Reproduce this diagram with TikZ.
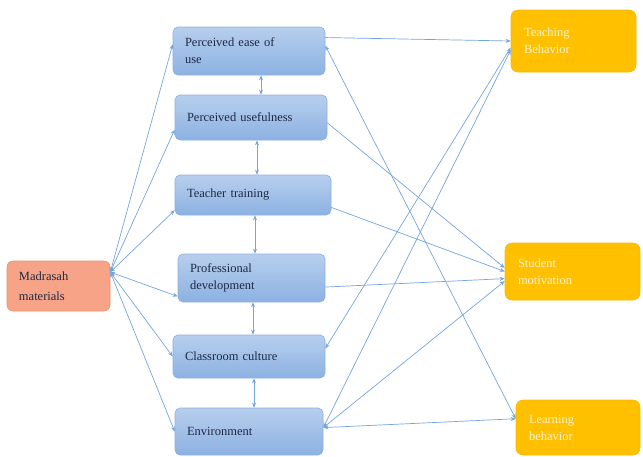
\documentclass[tikz,border=0pt]{standalone}
\usepackage{fontspec}
\setmainfont{Liberation Serif}
\usetikzlibrary{arrows.meta,calc}
\definecolor{bluetop}{HTML}{B7CFEE}
\definecolor{bluebot}{HTML}{8CB1E2}
\definecolor{blueedge}{HTML}{8DB0DD}
\definecolor{linkc}{HTML}{76A5DC}
\definecolor{gold}{HTML}{FFC000}
\definecolor{salmon}{HTML}{F6A387}
\definecolor{salmonedge}{HTML}{EC9474}
\definecolor{navytext}{HTML}{1F2A44}
\definecolor{paletext}{HTML}{FFF3CF}
\tikzset{
  bluebox/.style={draw=blueedge,line width=0.6pt,rounded corners=5pt,top color=bluetop,bottom color=bluebot,
    align=left,inner xsep=12pt,inner ysep=0pt,font=\fontsize{12.5}{17}\selectfont,text=navytext},
  goldbox/.style={draw=gold!90!orange,line width=0.6pt,rounded corners=7pt,fill=gold,
    align=left,inner xsep=13pt,inner ysep=0pt,font=\fontsize{12.5}{17}\selectfont,text=paletext},
  madbox/.style={draw=salmonedge,line width=0.6pt,rounded corners=6pt,fill=salmon,
    align=left,inner xsep=12pt,inner ysep=0pt,font=\fontsize{12.5}{20}\selectfont,text=navytext},
  link/.style={draw=linkc,line width=0.7pt,-{Stealth[length=5pt,width=4pt]}},
  dlink/.style={draw=linkc,line width=0.7pt,{Stealth[length=5pt,width=4pt]}-{Stealth[length=5pt,width=4pt]}}
}
\begin{document}
\begin{tikzpicture}[x=1pt,y=-1pt]
\useasboundingbox (0,0) rectangle (643,456);
% left column
\node[madbox,minimum width=103pt,minimum height=50pt,text width=79pt] (Mad) at (58.5,286) {Madrasah\\materials};
\node[bluebox,minimum width=152pt,minimum height=48pt,text width=128pt] (PEU) at (249,51) {Perceived ease of\\use};
\node[bluebox,minimum width=152pt,minimum height=45pt,text width=128pt] (PU) at (251,117.5) {Perceived usefulness};
\node[bluebox,minimum width=156pt,minimum height=40pt,text width=132pt] (TT) at (253,195) {Teacher training};
\node[bluebox,minimum width=147pt,minimum height=48pt,text width=123pt] (PD) at (251.5,278) {Professional\\development};
\node[bluebox,minimum width=152pt,minimum height=43pt,text width=128pt] (CC) at (249,356.5) {Classroom culture};
\node[bluebox,minimum width=148pt,minimum height=47pt,text width=124pt] (Env) at (249,431.5) {Environment};
% right column
\node[goldbox,minimum width=125pt,minimum height=62pt,text width=99pt] (TB) at (573.5,41) {Teaching\\Behavior};
\node[goldbox,minimum width=135pt,minimum height=57pt,text width=109pt] (SM) at (572.5,271.5) {Student\\motivation};
\node[goldbox,minimum width=124pt,minimum height=55pt,text width=98pt] (LB) at (578,427.5) {Learning\\behavior};
% madrasah links
\draw[dlink] (Mad.15) -- (PEU.175);
\draw[dlink] (Mad.15) -- (PU.189);
\draw[dlink] (Mad.15) -- (TT.191);
\draw[dlink] (Mad.15) -- (PD.194);
\draw[dlink] (Mad.15) -- (CC.180);
\draw[dlink] (Mad.15) -- (Env.180);
% vertical links
\draw[dlink] ([xshift=12pt]PEU.south) -- ([xshift=10pt]PU.north);
\draw[dlink] ([xshift=6pt]PU.south) -- ([xshift=4pt]TT.north);
\draw[dlink] ([xshift=2pt]TT.south) -- ([xshift=3.5pt]PD.north);
\draw[dlink] ([xshift=1.5pt]PD.south) -- ([xshift=4pt]CC.north);
\draw[dlink] ([xshift=5pt]CC.south) -- ([xshift=5pt]Env.north);
% right links
\draw[link] (PEU.10) -- (TB.180);
\draw[dlink] (PEU.4) -- (LB.172);
\draw[link] (PU.-4) -- (SM.177);
\draw[link] (TT.-9) -- (SM.180);
\draw[link] (PD.-7) -- (SM.186);
\draw[dlink] (CC.6) -- (TB.186);
\draw[dlink] (Env.3) -- (TB.188);
\draw[dlink] (Env.3) -- (SM.188);
\draw[dlink] (Env.3) -- (LB.172);
\end{tikzpicture}
\end{document}
